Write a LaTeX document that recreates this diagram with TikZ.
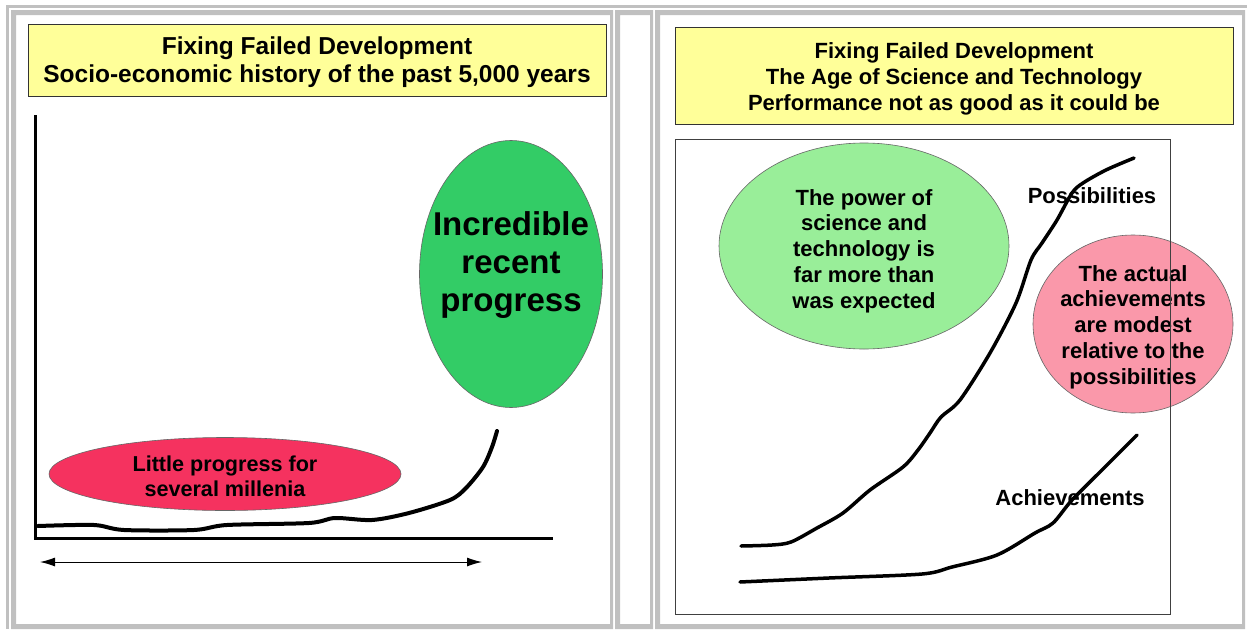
\documentclass[tikz,border=0pt]{standalone}
\usepackage{fontspec}
\setmainfont{Liberation Sans}
\usetikzlibrary{shapes.geometric,arrows.meta}
\definecolor{cellgray}{RGB}{192,192,192}
\definecolor{titleyellow}{RGB}{255,255,153}
\definecolor{slowred}{RGB}{245,50,95}
\definecolor{fastgreen}{RGB}{51,204,102}
\definecolor{powergreen}{RGB}{153,238,153}
\definecolor{modestpink}{RGB}{250,152,170}
\newcommand{\ttlfont}[2]{\fontsize{#1}{#2}\selectfont\bfseries}

\begin{document}
\begin{tikzpicture}[x=1pt,y=-1pt,
  title/.style={draw=black!80,fill=titleyellow,inner sep=0pt,line width=1pt},
  blob/.style={ellipse,draw=black!60,line width=0.6pt,inner sep=0pt},
  txt/.style={align=center,font=\ttlfont{22}{25.8}},
  curve/.style={line width=3.5pt,line cap=round,line join=round}]
\useasboundingbox (0,0) rectangle (1247,629);
\fill[white] (0,0) rectangle (1247,629);
\fill[cellgray] (6,5) rectangle (1247,8);
\fill[cellgray] (6,5) rectangle (9,629);
\fill[cellgray,even odd rule] (11,10) rectangle (613,629) (16,15) rectangle (610,624);
\fill[cellgray,even odd rule] (615,10) rectangle (653,629) (620,15) rectangle (650,624);
\fill[cellgray,even odd rule] (655,10) rectangle (1245,629) (660,15) rectangle (1242,624);

\node[title,minimum width=578,minimum height=72] (titleL) at (317,60) {};
\node[align=center,font=\ttlfont{24.5}{28}] (titleLtxt) at ([yshift=-2pt]titleL.center)
  {Fixing Failed Development\\Socio-economic history of the past 5,000 years};
\coordinate (yaxis) at (35,115);
\coordinate (origin) at (35,538);
\coordinate (xaxis) at (553,538);
\draw[line width=3pt] (yaxis) -- (origin) -- (xaxis);
\coordinate (past) at (40,562);
\coordinate (now) at (482,562);
\draw[{Latex[length=15pt,width=9pt]}-{Latex[length=15pt,width=9pt]},line width=1pt] (past) -- (now);
\node[blob,fill=slowred,minimum width=352,minimum height=73] (slow) at (225,474) {};
\node[align=center,font=\ttlfont{21.6}{25}] (slowtxt) at ([yshift=-2pt]slow.center)
  {Little progress for\\several millenia};
\node[blob,fill=fastgreen,minimum width=183,minimum height=267] (fast) at (511,274) {};
\node[align=center,font=\ttlfont{33}{38}] (fasttxt) at ([yshift=9pt]fast.center) {Incredible\\recent\\progress};
\draw[curve,line width=4pt] plot[smooth,tension=0.5] coordinates {(38,526) (94,525) (124,530) (194,530) (227,525) (309,523) (335,518) (372,520) (409,513) (450,500) (466,488) (483,467) (492,447) (497,431)};

\node[title,minimum width=558,minimum height=97] (titleR) at (954,75.5) {};
\node[align=center,font=\ttlfont{22}{26}] (titleRtxt) at ([yshift=-3pt]titleR.center)
  {Fixing Failed Development\\The Age of Science and Technology\\Performance not as good as it could be};
\node[blob,fill=powergreen,minimum width=290,minimum height=206] (power) at (864,246) {};
\node[txt] (powertxt) at ([yshift=-5pt]power.center)
  {The power of\\science and\\technology is\\far more than\\was expected};
\node[blob,fill=modestpink,minimum width=200,minimum height=178] (modest) at (1133,324) {};
\node[txt] (modesttxt) at ([yshift=-3pt]modest.center)
  {The actual\\achievements\\are modest\\relative to the\\possibilities};
\node[txt] (possib) at (1092,196) {Possibilities};
\node[txt] (achiev) at (1070,498) {Achievements};
\draw[curve] plot[smooth,tension=0.5] coordinates {(741,546) (772,545) (791,542) (817,528) (843,513) (870,490) (903,467) (918,450) (930,433) (941,417) (960,400) (990,353) (1016,303) (1031,260) (1042,243) (1057,220) (1072,193) (1083,183) (1106,170) (1134,158)};
\draw[curve] plot[smooth,tension=0.5] coordinates {(740,582) (829,578) (922,574) (952,567) (997,555) (1035,533) (1053,523) (1072,500) (1102,470) (1137,435)};
\draw[black!75,line width=1pt] (675,139) rectangle (1170,614);
\end{tikzpicture}
\end{document}
